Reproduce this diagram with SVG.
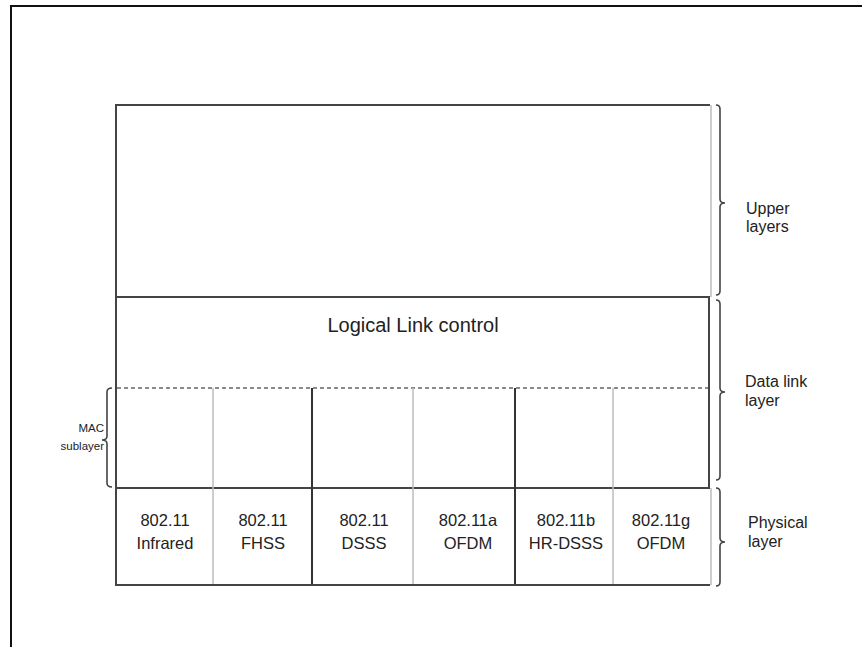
<svg xmlns="http://www.w3.org/2000/svg" width="862" height="647" viewBox="0 0 862 647">
<style>
.frame{fill:none;stroke:#111;stroke-width:2}
.box{fill:none;stroke:#444;stroke-width:2}
.light{fill:none;stroke:#bdbdbd;stroke-width:1.5}
.dark{fill:none;stroke:#333;stroke-width:2}
.dash{fill:none;stroke:#666;stroke-width:1.5;stroke-dasharray:4 3}
.brace{fill:none;stroke:#444;stroke-width:1.6}
.t{font-family:"Liberation Sans",Arial,sans-serif;fill:#222}
.lab{font-size:16px}
.col{font-size:16.5px;text-anchor:middle}
.llc{font-size:20px;text-anchor:middle}
.mac{font-size:11.5px;text-anchor:end}
</style>
<rect width="862" height="647" fill="#fff"/>
<path class="frame" d="M11 647 L11 6 L862 6"/>
<g id="upper">
<path class="box" d="M116 297 L116 105 L710 105"/>
<path class="light" d="M711 105 L711 297"/>
</g>
<g id="llc">
<path class="box" d="M116 297 L709 297 L709 488 L116 488 Z"/>
<line class="dash" x1="117" y1="388" x2="708" y2="388"/>
<text class="t llc" x="413" y="332">Logical Link control</text>
</g>
<g id="mac">
<line class="light" x1="213" y1="388" x2="213" y2="584"/>
<line class="light" x1="413" y1="388" x2="413" y2="584"/>
<line class="light" x1="613" y1="388" x2="613" y2="584"/>
<line class="dark" x1="312" y1="388" x2="312" y2="585"/>
<line class="dark" x1="515" y1="388" x2="515" y2="585"/>
</g>
<g id="physical">
<path class="box" d="M116 488 L116 585 L710 585"/>
<path class="light" d="M711 488 L711 585"/>
<text class="t col" x="165" y="526">802.11</text>
<text class="t col" x="165" y="549">Infrared</text>
<text class="t col" x="263" y="526">802.11</text>
<text class="t col" x="263" y="549">FHSS</text>
<text class="t col" x="364" y="526">802.11</text>
<text class="t col" x="364" y="549">DSSS</text>
<text class="t col" x="468" y="526">802.11a</text>
<text class="t col" x="468" y="549">OFDM</text>
<text class="t col" x="566" y="526">802.11b</text>
<text class="t col" x="566" y="549">HR-DSSS</text>
<text class="t col" x="661" y="526">802.11g</text>
<text class="t col" x="661" y="549">OFDM</text>
</g>
<g id="braces">
<path class="brace" d="M716 105 Q720 105 720 109 L720 199 Q720 203 725 203 Q720 203 720 207 L720 291 Q720 295 716 295"/>
<path class="brace" d="M716 300 Q720 300 720 304 L720 388 Q720 392 725 392 Q720 392 720 396 L720 476 Q720 480 716 480"/>
<path class="brace" d="M716 488 Q720 488 720 492 L720 538 Q720 542 725 542 Q720 542 720 546 L720 582 Q720 586 716 586"/>
<path class="brace" d="M112 388 Q107 388 107 392 L107 436 Q107 440 102 440 Q107 440 107 444 L107 483 Q107 487 112 487"/>
</g>
<g id="labels">
<text class="t lab" x="746" y="214">Upper</text>
<text class="t lab" x="746" y="232">layers</text>
<text class="t lab" x="745" y="387">Data link</text>
<text class="t lab" x="745" y="406">layer</text>
<text class="t lab" x="748" y="528">Physical</text>
<text class="t lab" x="748" y="547">layer</text>
<text class="t mac" x="104" y="432">MAC</text>
<text class="t mac" x="104" y="450">sublayer</text>
</g>
</svg>
